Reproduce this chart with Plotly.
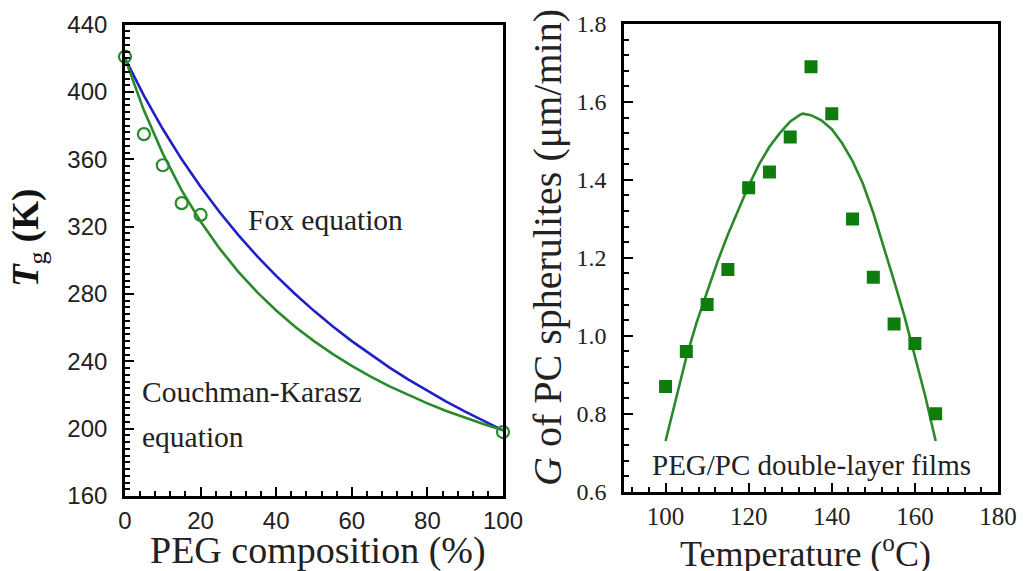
import plotly.graph_objects as go

# ---------------- data ----------------
# Left panel: Tg vs PEG composition
peg_pts = [0, 5, 10, 15, 20, 100]
tg_pts = [421, 375, 356.5, 334, 327, 198]

peg_curve = [0, 5, 10, 15, 20, 25, 30, 35, 40, 45, 50, 55, 60, 65, 70, 75, 80, 85, 90, 95, 100]
tg_fox = [420, 397.9, 378.0, 360.0, 343.7, 328.7, 315.0, 302.4, 290.8, 280.0, 270.0,
          260.7, 252.0, 243.9, 236.3, 229.1, 222.4, 216.1, 210.1, 204.4, 199.0]
tg_ck = [420, 389.1, 363.4, 341.6, 323.1, 307.1, 293.2, 281.0, 270.2, 260.6, 252.0,
         244.3, 237.3, 230.9, 225.1, 219.9, 215.0, 210.5, 206.4, 202.6, 199.0]

# Right panel: growth rate vs temperature
temp_pts = [100, 105, 110, 115, 120, 125, 130, 135, 140, 145, 150, 155, 160, 165]
g_pts = [0.87, 0.96, 1.08, 1.17, 1.38, 1.42, 1.51, 1.69, 1.57, 1.30, 1.15, 1.03, 0.98, 0.80]

temp_fit = [100, 102.5, 105, 107.5, 110, 112.5, 115, 117.5, 120, 122.5, 125, 127.5, 130, 132.5,
            133, 135, 137.5, 140, 142.5, 145, 147.5, 150, 152.5, 155, 157.5, 160, 162.5, 165]
g_fit = [0.73, 0.84, 0.945, 1.035, 1.115, 1.19, 1.26, 1.325, 1.385, 1.44, 1.485, 1.52, 1.55, 1.568,
         1.570, 1.566, 1.553, 1.53, 1.494, 1.448, 1.39, 1.315, 1.23, 1.14, 1.05, 0.95, 0.845, 0.73]

left_xticks = [0, 20, 40, 60, 80, 100]
left_yticks = [160, 200, 240, 280, 320, 360, 400, 440]
right_xticks = [100, 120, 140, 160, 180]
right_yticks = [0.6, 0.8, 1.0, 1.2, 1.4, 1.6, 1.8]

GREEN_LINE = "#2a8a2a"
GREEN_MARK = "#0e7d0e"
BLUE_LINE = "#2020c8"
SERIF = "Liberation Serif, Times New Roman, serif"
SANS = "Liberation Sans, Arial, sans-serif"

W, H = 1025, 571
OFF = 8  # page body margin


def px(xp):
    return (xp - OFF) / W


def py(yp):
    return 1 - (yp - OFF) / H


fig = go.Figure()

# left panel traces
fig.add_trace(go.Scatter(x=peg_curve, y=tg_fox, mode="lines", line=dict(color=BLUE_LINE, width=2.6),
                         xaxis="x", yaxis="y", showlegend=False))
fig.add_trace(go.Scatter(x=peg_curve, y=tg_ck, mode="lines", line=dict(color=GREEN_LINE, width=2.6),
                         xaxis="x", yaxis="y", showlegend=False))
fig.add_trace(go.Scatter(x=peg_pts, y=tg_pts, mode="markers",
                         marker=dict(symbol="circle-open", size=12, color=GREEN_LINE, line=dict(width=2.2)),
                         xaxis="x", yaxis="y", showlegend=False, cliponaxis=False))

# right panel traces
fig.add_trace(go.Scatter(x=temp_fit, y=g_fit, mode="lines", line=dict(color=GREEN_LINE, width=2.6),
                         xaxis="x2", yaxis="y2", showlegend=False))
fig.add_trace(go.Scatter(x=temp_pts, y=g_pts, mode="markers",
                         marker=dict(symbol="square", size=13, color=GREEN_MARK),
                         xaxis="x2", yaxis="y2", showlegend=False))

axis_common = dict(showline=True, linecolor="black", linewidth=2.6, mirror=True,
                   ticks="inside", tickcolor="black", tickwidth=2, ticklen=9,
                   showgrid=False, zeroline=False, automargin=False)

fig.update_layout(
    width=W, height=H,
    margin=dict(l=0, r=0, t=0, b=0, pad=0, autoexpand=False),
    showlegend=False,
    paper_bgcolor="white", plot_bgcolor="white",
    xaxis=dict(domain=[px(125), px(503)], range=[0, 100], anchor="y",
               tickvals=left_xticks, ticktext=[str(v) for v in left_xticks],
               tickfont=dict(family=SANS, size=24, color="#222"), ticklabelstandoff=1,
               minor=dict(ticks="inside", dtick=4, ticklen=5, tickcolor="black", tickwidth=1.8),
               **axis_common),
    yaxis=dict(domain=[py(496), py(24.7)], range=[160, 440], anchor="x",
               tickvals=left_yticks, ticktext=[str(v) for v in left_yticks],
               tickfont=dict(family=SANS, size=24, color="#222"), ticklabelstandoff=10,
               minor=dict(ticks="inside", dtick=4, ticklen=5, tickcolor="black", tickwidth=1.8),
               **axis_common),
    xaxis2=dict(domain=[px(624), px(998)], range=[90, 180], anchor="y2",
                tickvals=right_xticks, ticktext=[str(v) for v in right_xticks],
                tickfont=dict(family=SERIF, size=25, color="#222"), ticklabelstandoff=0,
                minor=dict(ticks="inside", dtick=4, ticklen=5, tickcolor="black", tickwidth=1.8),
                **axis_common),
    yaxis2=dict(domain=[py(491.7), py(24)], range=[0.6, 1.8], anchor="x2",
                tickvals=right_yticks, ticktext=["%.1f" % v for v in right_yticks],
                tickfont=dict(family=SERIF, size=24, color="#222"), ticklabelstandoff=10,
                minor=dict(ticks="inside", dtick=0.04, ticklen=5, tickcolor="black", tickwidth=1.8),
                **axis_common),
)

annotations = [
    # in-plot labels
    dict(text="Fox equation", x=53, y=324, xref="x", yref="y", showarrow=False,
         font=dict(family=SERIF, size=29.5, color="#222"), xanchor="center", yanchor="middle"),
    dict(text="Couchman-Karasz", x=4, y=222, xref="x", yref="y", showarrow=False,
         font=dict(family=SERIF, size=29.5, color="#222"), xanchor="left", yanchor="middle"),
    dict(text="equation", x=4, y=195, xref="x", yref="y", showarrow=False,
         font=dict(family=SERIF, size=29.5, color="#222"), xanchor="left", yanchor="middle"),
    dict(text="PEG/PC double-layer films", x=135, y=0.668, xref="x2", yref="y2", showarrow=False,
         font=dict(family=SERIF, size=29, color="#222"), xanchor="center", yanchor="middle"),
    # axis titles
    dict(text="PEG composition (%)", x=px(318), y=py(550), xref="paper", yref="paper",
         showarrow=False, font=dict(family=SERIF, size=38, color="#222"), xanchor="center", yanchor="middle"),
    dict(text="Temperature (<sup>o</sup>C)", x=px(805), y=py(551), xref="paper", yref="paper",
         showarrow=False, font=dict(family=SERIF, size=36, color="#222"), xanchor="center", yanchor="middle"),
    dict(text="<i>G</i> of PC spherulites (μm/min)", x=px(547), y=py(248), xref="paper", yref="paper",
         textangle=-90, showarrow=False, font=dict(family=SERIF, size=40, color="#222"),
         xanchor="center", yanchor="middle"),
    dict(text="<b><i>T</i></b><sub>g</sub><b> (K)</b>", x=px(28), y=py(238), xref="paper", yref="paper",
         textangle=-90, showarrow=False, font=dict(family=SERIF, size=37, color="#111"),
         xanchor="center", yanchor="middle"),
]
fig.update_layout(annotations=annotations)

fig.write_html("out.html")
